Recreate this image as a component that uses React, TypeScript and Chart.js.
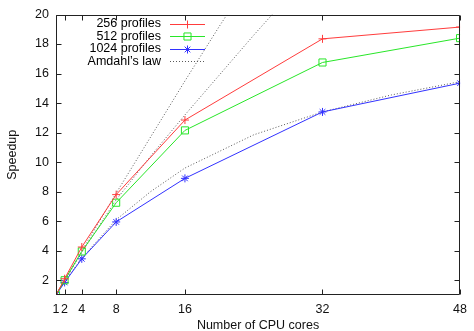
import React, { useEffect, useRef } from 'react';
import { Chart, registerables } from 'chart.js';

Chart.register(...registerables);

// ---- data ----
const cores = [1, 2, 4, 8, 16, 32, 48];
const speedup256 = [1, 2.1, 4.25, 7.8, 12.85, 18.35, 19.15];
const speedup512 = [1, 2.0, 3.95, 7.25, 12.15, 16.75, 18.4];
const speedup1024 = [1, 1.85, 3.45, 5.95, 8.9, 13.4, 15.35];

const amdahlAX = [1, 2, 4, 8, 12, 16, 20, 22];
const amdahlAY = [1, 2.0, 3.98, 7.9, 11.7, 15.5, 19.2, 21.0];
const amdahlBX = [1, 2, 4, 8, 12, 16, 20, 24, 28];
const amdahlBY = [1, 1.97, 3.88, 7.45, 10.4, 13.2, 15.9, 18.6, 21.2];
const amdahlCX = [1, 2, 4, 8, 12, 16, 24, 32, 40, 48];
const amdahlCY = [1, 1.91, 3.5, 6.1, 8.0, 9.6, 11.85, 13.4, 14.55, 15.45];

const xTicks = [1, 2, 4, 8, 16, 32, 48];
const yTicks = [2, 4, 6, 8, 10, 12, 14, 16, 18, 20];

const seriesLabels = ['256 profiles', '512 profiles', '1024 profiles', 'Amdahl\u2019s law'];
const xTitle = 'Number of CPU cores';
const yTitle = 'Speedup';

const RED = 'rgb(255,60,60)';
const GREEN = 'rgb(40,230,40)';
const BLUE = 'rgb(50,50,255)';
const DOT = 'rgb(90,90,90)';
const FONT = '"Liberation Sans", Arial, Helvetica, sans-serif';
const FSIZE = 12.5;

const zip = (xs: number[], ys: number[]) => xs.map((x, i) => ({ x, y: ys[i] }));

function drawMarker(ctx: CanvasRenderingContext2D, style: string, x: number, y: number, r: number, color: string) {
  ctx.save();
  ctx.strokeStyle = color;
  ctx.lineWidth = 1;
  ctx.beginPath();
  if (style === 'cross') {
    ctx.moveTo(x - r, y); ctx.lineTo(x + r, y);
    ctx.moveTo(x, y - r); ctx.lineTo(x, y + r);
  } else if (style === 'rect') {
    const s = r * Math.SQRT1_2;
    ctx.rect(x - s, y - s, 2 * s, 2 * s);
  } else if (style === 'star') {
    ctx.moveTo(x - r, y); ctx.lineTo(x + r, y);
    ctx.moveTo(x, y - r); ctx.lineTo(x, y + r);
    const d = r * Math.SQRT1_2;
    ctx.moveTo(x - d, y - d); ctx.lineTo(x + d, y + d);
    ctx.moveTo(x - d, y + d); ctx.lineTo(x + d, y - d);
  }
  ctx.stroke();
  ctx.restore();
}

const framePlugin = {
  id: 'gnuFrame',
  afterDraw(chart: any) {
    const { ctx, chartArea } = chart;
    const xs = chart.scales.x;
    const ys = chart.scales.y;
    const L = Math.round(chartArea.left) + 0.5;
    const R = Math.round(chartArea.right) - 0.5;
    const T = Math.round(chartArea.top) + 0.5;
    const B = Math.round(chartArea.bottom) - 0.5;
    const tl = 5;
    ctx.save();
    ctx.strokeStyle = '#222';
    ctx.lineWidth = 1;
    ctx.beginPath();
    ctx.rect(L, T, R - L, B - T);
    xTicks.forEach((v) => {
      const px = Math.round(xs.getPixelForValue(v)) + 0.5;
      ctx.moveTo(px, B); ctx.lineTo(px, B - tl);
      ctx.moveTo(px, T); ctx.lineTo(px, T + tl);
    });
    yTicks.forEach((v) => {
      const py = Math.round(ys.getPixelForValue(v)) + 0.5;
      ctx.moveTo(L, py); ctx.lineTo(L + tl, py);
      ctx.moveTo(R, py); ctx.lineTo(R - tl, py);
    });
    ctx.stroke();

    // gnuplot-style legend: text right-aligned, sample to the right
    const rows = [23.5, 36, 48.5, 61];
    const textRight = 161;
    const lineL = 170;
    const lineR = 205;
    ctx.font = FSIZE + 'px ' + FONT;
    ctx.textAlign = 'right';
    ctx.textBaseline = 'middle';
    ctx.fillStyle = '#000';
    const ds = chart.data.datasets;
    for (let i = 0; i < 4; i++) {
      const d = ds[i];
      const y = rows[i];
      ctx.fillText(seriesLabels[i], textRight, y + 0.5);
      ctx.save();
      ctx.strokeStyle = d.borderColor;
      ctx.lineWidth = 1;
      if (d.borderDash) ctx.setLineDash(d.borderDash);
      ctx.beginPath();
      ctx.moveTo(lineL, Math.round(y) + 0.5);
      ctx.lineTo(lineR, Math.round(y) + 0.5);
      ctx.stroke();
      ctx.restore();
      if (d.pointStyle && d.pointRadius > 0) {
        drawMarker(ctx, d.pointStyle, (lineL + lineR) / 2, Math.round(y) + 0.5, d.pointRadius, d.borderColor);
      }
    }
    ctx.restore();
  },
};

export default function App() {
  const ref = useRef<HTMLCanvasElement | null>(null);
  useEffect(() => {
    document.body.style.margin = '0';
    if (!ref.current) return;
    Chart.defaults.font.family = FONT;
    Chart.defaults.font.size = FSIZE;
    Chart.defaults.color = '#111';
    const dotted = (label: string, xs: number[], ys: number[]) => ({
      label,
      data: zip(xs, ys),
      borderColor: DOT,
      borderWidth: 1,
      borderDash: [1, 2],
      pointRadius: 0,
      pointStyle: false as any,
      fill: false,
    });
    const chart = new Chart(ref.current, {
      type: 'line',
      data: {
        datasets: [
          {
            label: seriesLabels[0],
            data: zip(cores, speedup256),
            borderColor: RED,
            backgroundColor: RED,
            borderWidth: 1,
            pointStyle: 'cross',
            pointRadius: 4,
            pointBorderWidth: 1,
          },
          {
            label: seriesLabels[1],
            data: zip(cores, speedup512),
            borderColor: GREEN,
            backgroundColor: 'rgba(0,0,0,0)',
            borderWidth: 1,
            pointStyle: 'rect',
            pointRadius: 5,
            pointBorderWidth: 1,
          },
          {
            label: seriesLabels[2],
            data: zip(cores, speedup1024),
            borderColor: BLUE,
            backgroundColor: BLUE,
            borderWidth: 1,
            pointStyle: 'star',
            pointRadius: 4,
            pointBorderWidth: 1,
          },
          dotted(seriesLabels[3], amdahlAX, amdahlAY),
          dotted(seriesLabels[3], amdahlBX, amdahlBY),
          dotted(seriesLabels[3], amdahlCX, amdahlCY),
        ] as any,
      },
      options: {
        animation: false,
        responsive: false,
        maintainAspectRatio: false,
        layout: { padding: { top: 10, right: 2, left: 0, bottom: 0 } },
        plugins: { legend: { display: false }, tooltip: { enabled: false } },
        elements: { line: { tension: 0 } },
        scales: {
          x: {
            type: 'linear',
            min: 1,
            max: 48,
            grid: { display: false, drawTicks: false },
            border: { display: false },
            afterBuildTicks: (s: any) => { s.ticks = xTicks.map((v) => ({ value: v })); },
            afterFit: (s: any) => { s.height = 36; },
            ticks: { autoSkip: false, maxRotation: 0, padding: 7, color: '#111', font: { size: FSIZE } },
            title: { display: true, text: xTitle, color: '#111', font: { size: FSIZE }, padding: { top: 0, bottom: -2 } },
          },
          y: {
            type: 'linear',
            min: 1,
            max: 20,
            grid: { display: false, drawTicks: false },
            border: { display: false },
            afterBuildTicks: (s: any) => { s.ticks = yTicks.map((v) => ({ value: v })); },
            afterFit: (s: any) => { s.width = 56; },
            ticks: { padding: 7, color: '#111', font: { size: FSIZE } },
            title: { display: true, text: yTitle, color: '#111', font: { size: FSIZE }, padding: { top: 5, bottom: 0 } },
          },
        },
      } as any,
      plugins: [framePlugin],
    });
    return () => chart.destroy();
  }, []);
  return <canvas ref={ref} width={474} height={331} style={{ display: 'block' }} />;
}
